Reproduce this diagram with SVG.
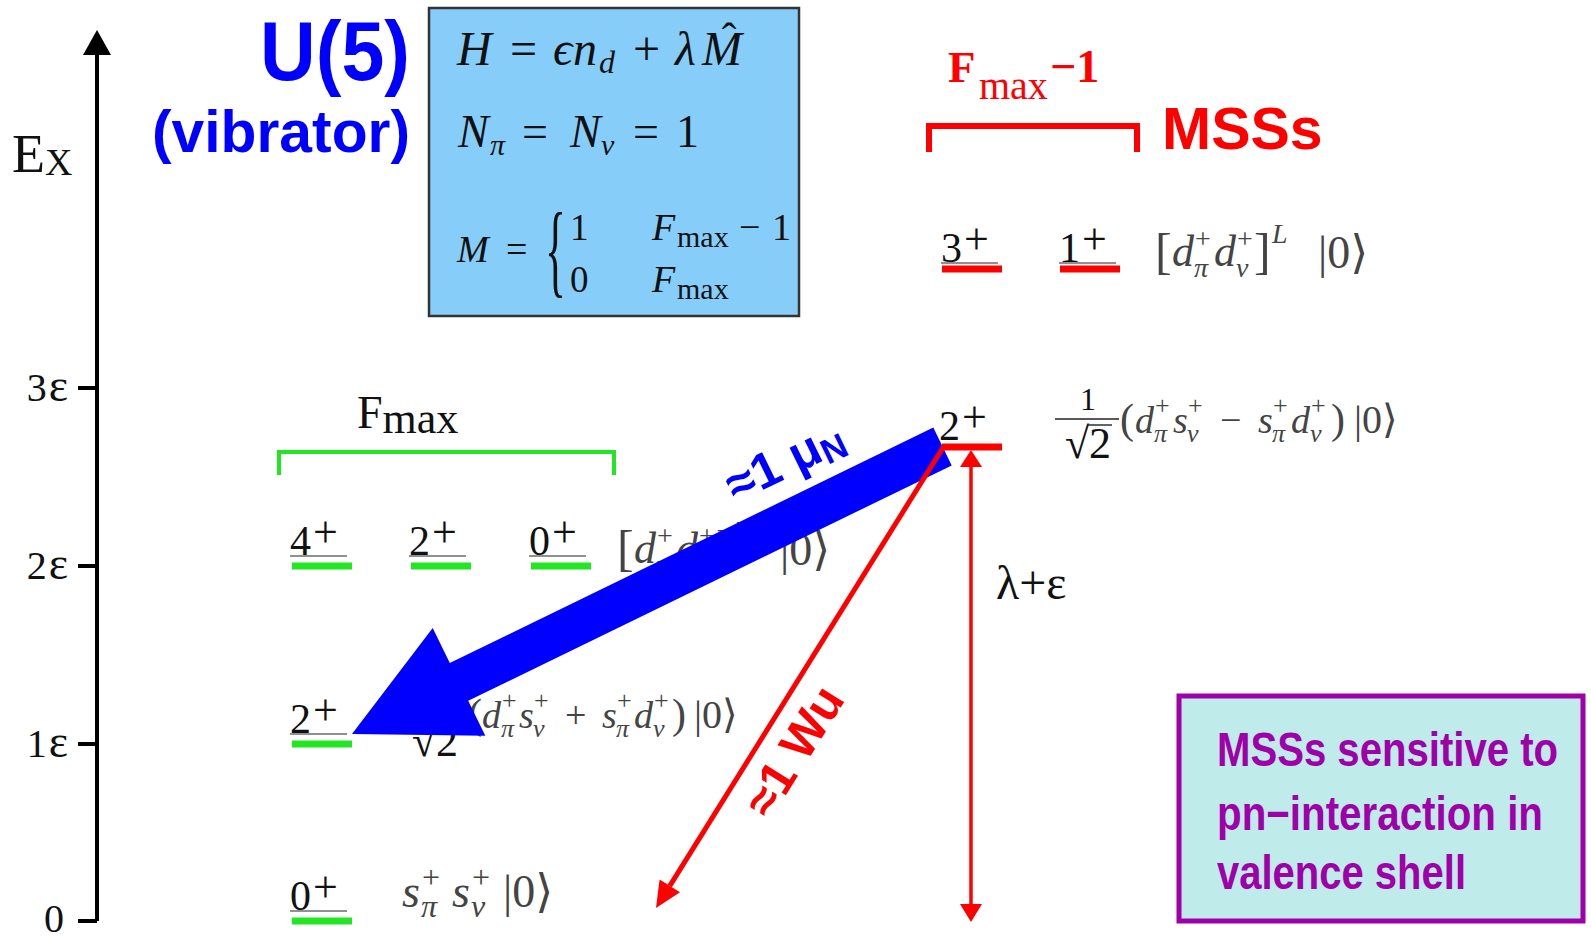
<svg xmlns="http://www.w3.org/2000/svg" width="1591" height="936" viewBox="0 0 1591 936">
<style>
.serif{font-family:"Liberation Serif","DejaVu Serif","DejaVu Sans",serif;}
.sans{font-family:"Liberation Sans",Arial,"DejaVu Sans",sans-serif;font-weight:bold;}
.it{font-style:italic;}
.g{stroke:#22E622;stroke-width:7;}
.r{stroke:#FF0000;stroke-width:7;}
.ul{stroke:#222;stroke-width:1.2;}
.lab{font-size:42px;fill:#111;}
.expr{fill:#444;}
.ss{font-size:26px;}
.sl{font-size:28px;}
</style>
<rect width="1591" height="936" fill="#fff"/>

<g id="axis">
  <line x1="97" y1="52" x2="97" y2="921" stroke="#000" stroke-width="4"/>
  <polygon points="97,30 83,55 111,55" fill="#000"/>
  <g stroke="#000" stroke-width="4">
    <line x1="78" y1="388" x2="97" y2="388"/>
    <line x1="78" y1="566" x2="97" y2="566"/>
    <line x1="78" y1="744" x2="97" y2="744"/>
    <line x1="78" y1="921" x2="97" y2="921"/>
  </g>
  <g class="serif" font-size="40" text-anchor="end" fill="#111">
    <text x="68" y="401">3<tspan dx="2" font-size="46">ε</tspan></text>
    <text x="68" y="579">2<tspan dx="2" font-size="46">ε</tspan></text>
    <text x="68" y="757">1<tspan dx="2" font-size="46">ε</tspan></text>
    <text x="64" y="932">0</text>
  </g>
  <text class="serif" x="12" y="172" font-size="54" fill="#111">E<tspan font-size="38" dy="3">X</tspan></text>
</g>

<g id="title">
  <text class="sans" x="410" y="80" font-size="84" text-anchor="end" textLength="150" lengthAdjust="spacingAndGlyphs" fill="#0000FF">U(5)</text>
  <text class="sans" x="410" y="152" font-size="60" text-anchor="end" textLength="258" lengthAdjust="spacingAndGlyphs" fill="#0000FF">(vibrator)</text>
</g>

<g id="hamiltonian-box">
  <rect x="429" y="8" width="370" height="308" fill="#87CDFA" stroke="#333" stroke-width="2.5"/>
  <text class="serif" font-size="48" fill="#111"><tspan class="it" x="457" y="65">H</tspan><tspan x="510" y="65">=</tspan><tspan class="it" x="553" y="65">ϵ</tspan><tspan class="it" x="573" y="65">n</tspan><tspan class="it" x="599" y="73" font-size="32">d</tspan><tspan x="633" y="65">+</tspan><tspan class="it" x="675" y="65">λ</tspan><tspan class="it" x="702" y="65">M</tspan></text>
  <text class="serif" x="729" y="53" font-size="44" text-anchor="middle" fill="#111">ˆ</text>
  <text class="serif" font-size="46" fill="#111"><tspan class="it" x="458" y="147">N</tspan><tspan class="it" x="490" y="155" font-size="30">π</tspan><tspan x="522" y="147">=</tspan><tspan class="it" x="570" y="147">N</tspan><tspan class="it" x="601" y="155" font-size="30">ν</tspan><tspan x="633" y="147">=</tspan><tspan x="676" y="147">1</tspan></text>
  <text class="serif" font-size="38" fill="#111"><tspan class="it" x="457" y="262">M</tspan><tspan x="506" y="262">=</tspan></text>
  <g transform="translate(545,284) scale(0.42,1)"><text class="serif" x="0" y="0" font-size="104" fill="#111">{</text></g>
  <text class="serif" font-size="37" fill="#111"><tspan x="570" y="240">1</tspan><tspan x="570" y="292">0</tspan></text>
  <text class="serif" font-size="38" fill="#111"><tspan class="it" x="652" y="240">F</tspan><tspan x="677" y="247" font-size="30">max</tspan><tspan x="739" y="240">−</tspan><tspan x="772" y="240">1</tspan><tspan class="it" x="652" y="292">F</tspan><tspan x="677" y="299" font-size="30">max</tspan></text>
</g>

<g id="fmax-group">
  <text class="serif" x="357" y="428" font-size="46" fill="#111">F<tspan font-size="44" dy="5">max</tspan></text>
  <polyline points="279,475 279,452 614,452 614,475" fill="none" stroke="#22E622" stroke-width="4"/>
</g>

<g id="msss-group">
  <text class="serif" fill="#FF0000"><tspan x="948" y="82" font-size="45" font-weight="bold">F</tspan><tspan x="979" y="99" font-size="40">max</tspan><tspan x="1050" y="82" font-size="46" font-weight="bold">−1</tspan></text>
  <polyline points="929,152 929,126 1137,126 1137,152" fill="none" stroke="#FF0000" stroke-width="6"/>
  <text class="sans" x="1162" y="149" font-size="59" fill="#FF0000">MSSs</text>
</g>

<g id="level-3plus">
  <text class="serif lab" x="941" y="262">3<tspan font-size="44" dx="2" dy="-8">+</tspan></text>
  <line class="ul" x1="941" y1="263" x2="998" y2="263"/>
  <line class="r" x1="942" y1="269" x2="1002" y2="269"/>
</g>
<g id="level-1plus">
  <text class="serif lab" x="1059" y="262">1<tspan font-size="44" dx="2" dy="-8">+</tspan></text>
  <line class="ul" x1="1059" y1="263" x2="1116" y2="263"/>
  <line class="r" x1="1060" y1="269" x2="1120" y2="269"/>
  <text class="serif expr" font-size="44" fill="#333"><tspan x="1155" y="268" font-size="50">[</tspan><tspan class="it" x="1172" y="266">d</tspan><tspan x="1195" y="248" class="sl">+</tspan><tspan class="it sl" x="1194" y="277">π</tspan><tspan class="it" x="1214" y="266">d</tspan><tspan x="1237" y="248" class="sl">+</tspan><tspan class="it sl" x="1236" y="277">ν</tspan><tspan x="1254" y="268" font-size="50">]</tspan><tspan class="it sl" x="1272" y="243">L</tspan><tspan x="1318" y="268" font-size="46">|0⟩</tspan></text>
</g>

<g id="level-2plus-mss">
  <text class="serif lab" x="939" y="440">2<tspan font-size="44" dx="2" dy="-8">+</tspan></text>
  <line class="r" x1="942" y1="447" x2="1002" y2="447"/>
  <text class="serif" x="1088" y="410" font-size="32" text-anchor="middle" fill="#111">1</text>
  <line x1="1055" y1="419" x2="1119" y2="419" stroke="#222" stroke-width="1.6"/>
  <text class="serif" x="1088" y="458" font-size="44" text-anchor="middle" fill="#111">√2</text>
  <line x1="1087" y1="425" x2="1112" y2="425" stroke="#222" stroke-width="1.4"/>
  <text class="serif expr" font-size="38"><tspan x="1120" y="433" font-size="42">(</tspan><tspan class="it" x="1135" y="433">d</tspan><tspan x="1155" y="414" class="ss">+</tspan><tspan class="it ss" x="1154" y="442">π</tspan><tspan class="it" x="1173" y="433">s</tspan><tspan x="1188" y="414" class="ss">+</tspan><tspan class="it ss" x="1187" y="442">ν</tspan><tspan x="1220" y="433">−</tspan><tspan class="it" x="1258" y="433">s</tspan><tspan x="1273" y="414" class="ss">+</tspan><tspan class="it ss" x="1272" y="442">π</tspan><tspan class="it" x="1291" y="433">d</tspan><tspan x="1311" y="414" class="ss">+</tspan><tspan class="it ss" x="1310" y="442">ν</tspan><tspan x="1331" y="433" font-size="42">)</tspan><tspan x="1354" y="433" font-size="40">|0⟩</tspan></text>
</g>

<g id="level-2eps">
  <text class="serif lab" x="290" y="555">4<tspan font-size="44" dx="2" dy="-8">+</tspan></text>
  <line class="ul" x1="290" y1="556" x2="347" y2="556"/>
  <line class="g" x1="292" y1="566" x2="352" y2="566"/>
  <text class="serif lab" x="409" y="555">2<tspan font-size="44" dx="2" dy="-8">+</tspan></text>
  <line class="ul" x1="409" y1="556" x2="466" y2="556"/>
  <line class="g" x1="411" y1="566" x2="471" y2="566"/>
  <text class="serif lab" x="529" y="555">0<tspan font-size="44" dx="2" dy="-8">+</tspan></text>
  <line class="ul" x1="529" y1="556" x2="586" y2="556"/>
  <line class="g" x1="531" y1="566" x2="591" y2="566"/>
  <text class="serif expr" font-size="44"><tspan x="617" y="565" font-size="50">[</tspan><tspan class="it" x="634" y="563">d</tspan><tspan x="657" y="545" class="sl">+</tspan><tspan class="it sl" x="656" y="574">π</tspan><tspan class="it" x="676" y="563">d</tspan><tspan x="699" y="545" class="sl">+</tspan><tspan class="it sl" x="698" y="574">ν</tspan><tspan x="716" y="565" font-size="50">]</tspan><tspan class="it sl" x="734" y="540">L</tspan><tspan x="780" y="565" font-size="46">|0⟩</tspan></text>
</g>

<g id="level-1eps">
  <text class="serif lab" x="290" y="733">2<tspan font-size="44" dx="2" dy="-8">+</tspan></text>
  <line class="ul" x1="290" y1="734" x2="347" y2="734"/>
  <line class="g" x1="292" y1="744" x2="352" y2="744"/>
  <text class="serif" x="436" y="705" font-size="32" text-anchor="middle" fill="#111">1</text>
  <line x1="404" y1="716" x2="466" y2="716" stroke="#222" stroke-width="1.6"/>
  <text class="serif" x="435" y="756" font-size="44" text-anchor="middle" fill="#111">√2</text>
  <text class="serif expr" font-size="38"><tspan x="468" y="728" font-size="42">(</tspan><tspan class="it" x="482" y="728">d</tspan><tspan x="502" y="709" class="ss">+</tspan><tspan class="it ss" x="501" y="737">π</tspan><tspan class="it" x="519" y="728">s</tspan><tspan x="534" y="709" class="ss">+</tspan><tspan class="it ss" x="533" y="737">ν</tspan><tspan x="565" y="728">+</tspan><tspan class="it" x="602" y="728">s</tspan><tspan x="617" y="709" class="ss">+</tspan><tspan class="it ss" x="616" y="737">π</tspan><tspan class="it" x="634" y="728">d</tspan><tspan x="654" y="709" class="ss">+</tspan><tspan class="it ss" x="653" y="737">ν</tspan><tspan x="672" y="728" font-size="42">)</tspan><tspan x="694" y="728" font-size="40">|0⟩</tspan></text>
</g>

<g id="level-0">
  <text class="serif lab" x="290" y="910">0<tspan font-size="44" dx="2" dy="-8">+</tspan></text>
  <line class="ul" x1="290" y1="911" x2="347" y2="911"/>
  <line class="g" x1="292" y1="921" x2="352" y2="921"/>
  <text class="serif expr" font-size="46"><tspan class="it" x="402" y="907">s</tspan><tspan x="422" y="888" font-size="32">+</tspan><tspan class="it" x="421" y="917" font-size="32">π</tspan><tspan class="it" x="452" y="907">s</tspan><tspan x="472" y="888" font-size="32">+</tspan><tspan class="it" x="471" y="917" font-size="32">ν</tspan><tspan x="503" y="907">|0⟩</tspan></text>
</g>

<g id="connectors">
  <polygon id="m1-arrow" points="933.3,427.6 449.8,663 432.7,628 352,734 485.3,735.8 468.2,700.8 951.7,465.4" fill="#0000FF"/>
  <g id="e2-arrow">
    <line x1="944" y1="446" x2="669.8" y2="885.9" stroke="#FF0000" stroke-width="5"/>
    <polygon points="656,908 680,892.3 659.6,879.5" fill="#FF0000"/>
  </g>
  <g id="energy-arrow">
    <line x1="971" y1="464" x2="971" y2="905" stroke="#FF0000" stroke-width="3.5"/>
    <polygon points="971,450 960,467 982,467" fill="#FF0000"/>
    <polygon points="971,922 960,904 982,904" fill="#FF0000"/>
  </g>
  <text class="sans" transform="translate(792,476) rotate(-26)" x="0" y="0" font-size="50" text-anchor="middle" fill="#0000FF">≈1 μ<tspan font-size="35" dy="6">N</tspan></text>
  <text class="sans" transform="translate(808,760) rotate(-58)" x="0" y="0" font-size="49" text-anchor="middle" fill="#FF0000">≈1 Wu</text>
  <text class="serif" x="996" y="599" font-size="48" fill="#111">λ+ε</text>
</g>

<g id="note-box">
  <rect x="1179" y="696" width="404" height="225" fill="#BFEBEB" stroke="#A000A8" stroke-width="5"/>
  <g class="sans" font-size="48" fill="#A000A8">
    <text x="1217" y="766" textLength="341" lengthAdjust="spacingAndGlyphs">MSSs sensitive to</text>
    <text x="1217" y="830" textLength="326" lengthAdjust="spacingAndGlyphs">pn−interaction in</text>
    <text x="1217" y="889" textLength="249" lengthAdjust="spacingAndGlyphs">valence shell</text>
  </g>
</g>
</svg>
